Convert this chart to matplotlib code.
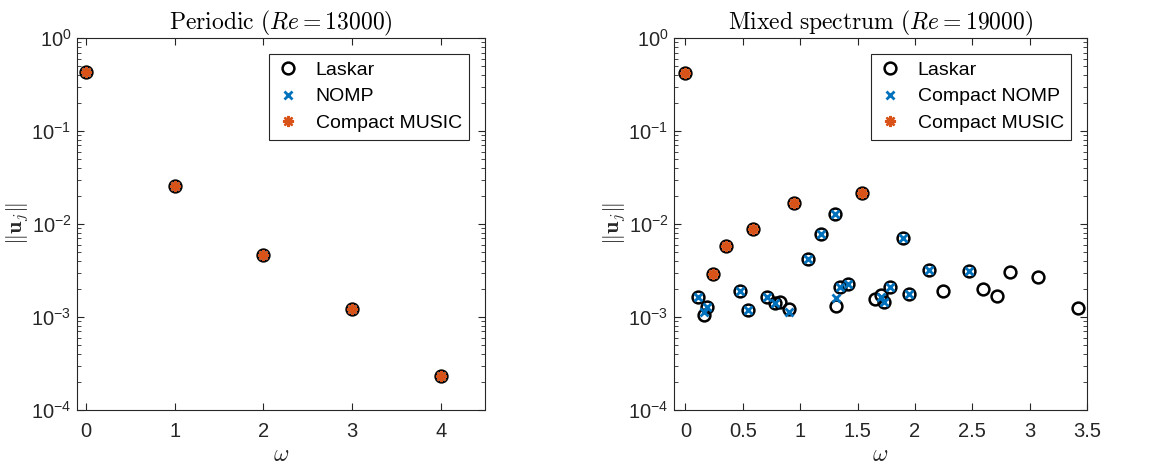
import matplotlib.pyplot as plt
import numpy as np
from matplotlib.ticker import LogLocator, NullFormatter

plt.rcParams["font.family"] = ["Liberation Sans", "DejaVu Sans"]
plt.rcParams["mathtext.fontset"] = "cm"

# Periodic case
w_per = [0, 1, 2, 3, 4]
u_per = [0.434, 0.0257, 0.0047, 0.00123, 0.000234]

# Mixed spectrum: Laskar
w_lask = [0.0, 0.238, 0.354, 0.591, 0.948, 1.542,
          0.113, 0.188, 0.159, 0.472, 0.548, 0.707, 0.783, 0.826, 0.904,
          1.064, 1.180, 1.304, 1.316, 1.348, 1.420, 1.652, 1.701, 1.730,
          1.780, 1.893, 1.945, 2.125, 2.243, 2.475, 2.594, 2.716, 2.832,
          3.070, 3.423]
u_lask = [0.42, 0.00288, 0.00575, 0.00884, 0.0168, 0.0217,
          0.00164, 0.00128, 0.00106, 0.00189, 0.0012, 0.00164, 0.00143, 0.00145, 0.00121,
          0.0042, 0.00774, 0.0127, 0.0013, 0.0021, 0.00225, 0.00157, 0.00174, 0.00145,
          0.0021, 0.00713, 0.00178, 0.00323, 0.00189, 0.00313, 0.00198, 0.00168, 0.00302,
          0.00269, 0.00126]

# Mixed spectrum: Compact NOMP
w_nomp = [0.113, 0.188, 0.162, 0.472, 0.548, 0.707, 0.783, 0.904,
          1.064, 1.180, 1.304, 1.316, 1.348, 1.420, 1.706, 1.730,
          1.780, 1.893, 1.945, 2.125, 2.475]
u_nomp = [0.00164, 0.00128, 0.00112, 0.00189, 0.0012, 0.00164, 0.00143, 0.00112,
          0.0042, 0.00774, 0.0127, 0.0016, 0.0021, 0.00225, 0.00165, 0.00145,
          0.0021, 0.00713, 0.00178, 0.00323, 0.00313]

# Mixed spectrum: Compact MUSIC
w_music = [0.0, 0.238, 0.354, 0.591, 0.948, 1.542]
u_music = [0.42, 0.00288, 0.00575, 0.00884, 0.0168, 0.0217]

blue = "#0072BD"
orange = "#D95319"
axcol = "#262626"

fig = plt.figure(figsize=(11.51, 4.66), dpi=100)
ax1 = fig.add_axes([0.0669, 0.1202, 0.3545, 0.798])
ax2 = fig.add_axes([0.5856, 0.1202, 0.3588, 0.798])


def draw(ax, wl, ul, wn, un, wm, um, nomp_label):
    ax.plot(wl, ul, "o", ms=8.5, mfc="none", mec="k", mew=1.8, ls="none", label="Laskar")
    ax.plot(wn, un, "x", ms=6, mec=blue, mew=2, ls="none", label=nomp_label)
    ax.plot(wm, um, marker=(8, 2, 0), ms=8, mfc=orange, mec=orange, mew=1.7,
            ls="none", label="Compact MUSIC")


draw(ax1, w_per, u_per, w_per, u_per, w_per, u_per, "NOMP")
draw(ax2, w_lask, u_lask, w_nomp, u_nomp, w_music, u_music, "Compact NOMP")

titles = [r"$\mathrm{Periodic}\ (Re = 13000)$",
          r"$\mathrm{Mixed\ spectrum}\ (Re = 19000)$"]
for ax, title in zip([ax1, ax2], titles):
    ax.set_yscale("log")
    ax.set_ylim(1e-4, 1)
    ax.yaxis.set_major_locator(LogLocator(base=10, numticks=10))
    ax.yaxis.set_minor_locator(LogLocator(base=10, subs=np.arange(2, 10), numticks=10))
    ax.yaxis.set_minor_formatter(NullFormatter())
    ax.tick_params(which="both", direction="in", top=True, right=True,
                   colors=axcol, labelsize=14.5, labelcolor=axcol)
    ax.tick_params(which="major", length=5, width=0.8)
    ax.tick_params(axis="x", which="major", pad=9)
    ax.tick_params(axis="y", which="major", pad=4)
    ax.tick_params(which="minor", length=3, width=0.6)
    for s in ax.spines.values():
        s.set_color(axcol)
        s.set_linewidth(0.8)
    ax.set_title(title, fontsize=17, color="k", pad=6)
    ax.set_xlabel(r"$\omega$", fontsize=17, color=axcol, labelpad=2)
    ax.set_ylabel(r"$\|\mathbf{u}_j\|$", fontsize=16, color=axcol, labelpad=0)
    leg = ax.legend(loc="upper right", fontsize=14, frameon=True, fancybox=False,
                    edgecolor=axcol, framealpha=1, borderaxespad=0.8,
                    handlelength=1.2, handletextpad=0.8, labelspacing=0.45,
                    borderpad=0.4)
    leg.get_frame().set_linewidth(0.8)

ax1.set_xlim(-0.1, 4.5)
ax1.set_xticks([0, 1, 2, 3, 4])
ax2.set_xlim(-0.1, 3.5)
ax2.set_xticks([0, 0.5, 1, 1.5, 2, 2.5, 3, 3.5])
ax2.set_xticklabels(["0", "0.5", "1", "1.5", "2", "2.5", "3", "3.5"])

fig.savefig("out.png", dpi=100)
